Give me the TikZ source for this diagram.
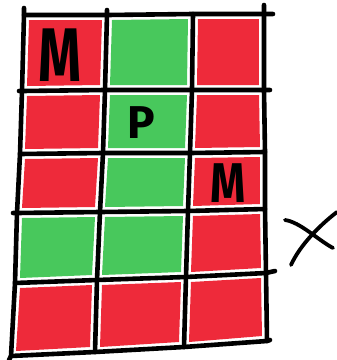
\documentclass[tikz,border=0pt]{standalone}
\usepackage{fontspec}
\setsansfont{Fira Sans}
\definecolor{cred}{RGB}{238,42,58}
\definecolor{cgreen}{RGB}{72,200,92}
\tikzset{
  gridline/.style={line width=4.6pt, line cap=round, line join=round, black},
  redcell/.style={fill=cred},
  greencell/.style={fill=cgreen},
  letter/.style={font=\sffamily\bfseries, text=black, inner sep=0pt},
  cross/.style={line width=3.8pt, line cap=round, black}
}
\begin{document}
\begin{tikzpicture}[x=1pt,y=-1pt]
\useasboundingbox (0,0) rectangle (337,360);
% grid intersections p<row><col>
\coordinate (p00) at (24,15);  \coordinate (p01) at (107,15); \coordinate (p02) at (193,14); \coordinate (p03) at (264,14);
\coordinate (p10) at (22,91);  \coordinate (p11) at (105,90); \coordinate (p12) at (192,90); \coordinate (p13) at (264,90);
\coordinate (p20) at (20,154); \coordinate (p21) at (103,153);\coordinate (p22) at (190,153);\coordinate (p23) at (265,152);
\coordinate (p30) at (17,213); \coordinate (p31) at (100,212);\coordinate (p32) at (188,211);\coordinate (p33) at (265,209);
\coordinate (p40) at (15,283); \coordinate (p41) at (97,280); \coordinate (p42) at (186,277);\coordinate (p43) at (266,273);
\coordinate (p50) at (11,356); \coordinate (p51) at (95,352); \coordinate (p52) at (184,347);\coordinate (p53) at (267,341);
% cells
\newcommand{\cellfill}[5]{%
  \fill[#5] ([shift={(5,5)}]p#1#2) -- ([shift={(-5,5)}]p#1#4) -- ([shift={(-5,-5)}]p#3#4) -- ([shift={(5,-5)}]p#3#2) -- cycle;}
% row 1
\cellfill{0}{0}{1}{1}{redcell}
\cellfill{0}{1}{1}{2}{greencell}
\cellfill{0}{2}{1}{3}{redcell}
% row 2
\cellfill{1}{0}{2}{1}{redcell}
\cellfill{1}{1}{2}{2}{greencell}
\cellfill{1}{2}{2}{3}{redcell}
% row 3
\cellfill{2}{0}{3}{1}{redcell}
\cellfill{2}{1}{3}{2}{greencell}
\cellfill{2}{2}{3}{3}{redcell}
% row 4
\cellfill{3}{0}{4}{1}{greencell}
\cellfill{3}{1}{4}{2}{greencell}
\cellfill{3}{2}{4}{3}{redcell}
% row 5
\cellfill{4}{0}{5}{1}{redcell}
\cellfill{4}{1}{5}{2}{redcell}
\cellfill{4}{2}{5}{3}{redcell}
% grid lines
\draw[gridline] (24,8) -- (p00) -- (p10) -- (p20) -- (p30) -- (p40) -- (p50) -- (9,360);
\draw[gridline] (107,10) -- (p01) -- (p11) -- (p21) -- (p31) -- (p41) -- (p51);
\draw[gridline] (p02) -- (p12) -- (p22) -- (p32) -- (p42) -- (p52);
\draw[gridline] (264,5) -- (p03) -- (p13) -- (p23) -- (p33) -- (p43) -- (p53);
\draw[gridline] (p00) -- (p01) -- (p02) -- (p03) -- (273,14);
\draw[gridline] (19,91) -- (p10) -- (p11) -- (p12) -- (p13) -- (270,90);
\draw[gridline] (p20) -- (p21) -- (p22) -- (p23);
\draw[gridline] (13,213) -- (p30) -- (p31) -- (p32) -- (p33);
\draw[gridline] (p40) -- (p41) -- (p42) -- (p43) -- (275,271);
\draw[gridline] (p50) -- (p51) -- (p52) -- (p53) -- (270,340);
% letters
\node[letter, font=\sffamily\bfseries\fontsize{76}{76}\selectfont, xscale=0.72] (m1) at (60,55) {M};
\node[letter, font=\sffamily\bfseries\fontsize{46}{46}\selectfont] (p) at (141,123) {P};
\node[letter, font=\sffamily\bfseries\fontsize{56}{56}\selectfont, xscale=0.8] (m2) at (228,183) {M};
% cross
\coordinate (x1) at (285,220);
\coordinate (x2) at (333,248);
\coordinate (x3) at (291,265);
\coordinate (x4) at (337,212);
\draw[cross] (x1) .. controls (300,222) and (318,240) .. (x2);
\draw[cross] (x3) .. controls (300,245) and (320,225) .. (x4);
\end{tikzpicture}
\end{document}
